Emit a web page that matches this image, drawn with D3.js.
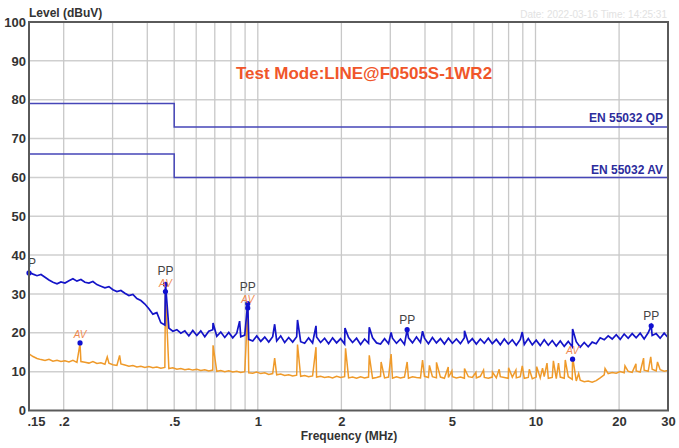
<!DOCTYPE html>
<html>
<head>
<meta charset="utf-8">
<script src="https://cdn.jsdelivr.net/npm/d3@7"></script>
<style>
body { margin: 0; background: #fff; }
text { font-family: "Liberation Sans", Arial, sans-serif; }
</style>
</head>
<body>
<div id="chart"></div>
<script>
// sweep frequencies (MHz)
const freqs = [
    0.150, 0.1551, 0.1603, 0.1657, 0.1713, 0.1770, 0.1830, 0.1892, 0.1955, 0.2021,
    0.2089, 0.2159, 0.2232, 0.2307, 0.2385, 0.2465, 0.2548, 0.2634, 0.2723, 0.2815,
    0.2910, 0.3008, 0.3109, 0.3214, 0.3322, 0.3434, 0.3550, 0.3669, 0.3793, 0.3921,
    0.4053, 0.4189, 0.4330, 0.4476, 0.4627, 0.4783, 0.4944, 0.5111, 0.5283, 0.5461,
    0.5645, 0.5833, 0.6030, 0.6233, 0.6443, 0.6660, 0.6885, 0.7117, 0.7356, 0.7604,
    0.7860, 0.8125, 0.8399, 0.8682, 0.8975, 0.9277, 0.9590, 0.9913, 1.0247, 1.0593,
    1.0949, 1.1315, 1.1696, 1.2090, 1.2497, 1.2918, 1.3353, 1.3803, 1.4268, 1.4749,
    1.524, 1.575, 1.628, 1.683, 1.740, 1.799, 1.859, 1.922, 1.987, 2.054,
    2.123, 2.194, 2.268, 2.345, 2.424, 2.505, 2.590, 2.677, 2.767, 2.861,
    2.957, 3.055, 3.158, 3.264, 3.374, 3.488, 3.606, 3.727, 3.853, 3.983,
    4.116, 4.254, 4.398, 4.546, 4.699, 4.857, 5.021, 5.190, 5.365, 5.546,
    5.732, 5.923, 6.123, 6.329, 6.542, 6.762, 6.990, 7.226, 7.469, 7.721,
    7.981, 8.250, 8.528, 8.815, 9.112, 9.419, 9.737, 10.06, 10.40, 10.75,
    11.12, 11.49, 11.88, 12.28, 12.69, 13.12, 13.56, 14.02, 14.49, 14.98,
    15.48, 16.00, 16.54, 17.10, 17.68, 18.27, 18.89, 19.53, 20.18, 20.86,
    21.56, 22.29, 23.04, 23.82, 24.62, 25.45, 26.31, 27.20, 28.11, 29.06,
    30.00
];

// peak detector trace (dBuV)
const peakLevels = [
    35.6, 35.1, 34.7, 35.0, 34.3, 33.6, 33.0, 32.6, 33.1, 32.8,
    33.4, 33.9, 33.3, 33.7, 33.0, 32.8, 33.2, 32.4, 32.0, 31.6,
    31.9, 31.1, 30.6, 30.9, 30.2, 29.6, 29.9, 28.8, 28.3, 27.4,
    26.2, 24.8, 25.2, 22.6, 22.0, 21.2, 20.4, 20.8, 19.9, 20.5,
    19.2, 20.6, 19.3, 20.5, 19.0, 20.4, 20.8, 19.1, 20.2, 18.8,
    20.1, 18.7, 19.9, 19.0, 19.4, 18.3, 17.9, 19.2, 17.8, 18.9,
    17.6, 19.0, 17.9, 19.2, 17.5, 18.8, 17.6, 19.0, 17.7, 17.3,
    18.7, 17.4, 18.9, 17.5, 18.6, 17.2, 18.7, 17.4, 18.5, 17.1,
    18.8, 17.5, 18.6, 17.0, 18.4, 17.3, 18.7, 17.4, 17.1, 18.5,
    17.2, 18.6, 17.3, 18.4, 17.0, 18.7, 17.4, 18.9, 17.5, 18.6,
    17.2, 18.8, 17.4, 18.5, 17.1, 18.6, 17.3, 18.4, 17.2, 18.7,
    17.4, 18.5, 17.1, 18.4, 17.3, 18.6, 17.2, 18.3, 16.9, 18.4,
    17.1, 18.2, 16.8, 18.3, 17.0, 18.5, 16.9, 18.1, 16.7, 18.2,
    16.8, 18.0, 16.6, 17.9, 16.5, 17.8, 16.4, 17.7, 16.3, 17.5,
    16.4, 17.6, 17.2, 18.7, 18.2, 19.2, 18.4, 19.5, 18.3, 19.7,
    18.6, 19.8, 18.7, 19.9, 18.4, 20.0, 19.3, 19.8, 18.6, 19.9,
    18.8
];

// average detector trace (dBuV)
const avgLevels = [
    14.6, 13.9, 13.4, 13.1, 12.9, 13.2, 12.7, 12.9, 12.6, 12.8,
    12.5, 12.9, 12.4, 12.6, 12.4, 12.2, 12.6, 12.1, 12.3, 11.9,
    12.2, 11.8, 11.6, 12.0, 11.7, 11.4, 11.6, 11.2, 11.4, 11.1,
    11.3, 11.0, 11.2, 10.9, 11.1, 10.8, 11.0, 10.6, 10.8, 10.5,
    10.7, 10.4, 10.6, 10.3, 10.5, 10.2, 10.4, 10.1, 10.3, 10.0,
    10.2, 9.9, 10.1, 9.8, 10.0, 9.7, 9.6, 9.9, 9.5, 9.7,
    9.3, 9.5, 9.2, 9.4, 9.0, 9.2, 8.9, 9.1, 8.8, 9.0,
    8.7, 8.9, 8.6, 8.8, 8.5, 8.7, 8.4, 8.8, 8.5, 8.7,
    8.4, 8.6, 8.3, 8.7, 8.4, 8.6, 8.3, 8.5, 8.8, 8.4,
    8.6, 8.3, 8.7, 8.4, 8.6, 8.3, 8.7, 8.5, 8.4, 8.8,
    8.5, 8.7, 8.4, 8.6, 8.3, 8.5, 8.7, 8.4, 8.6, 8.3,
    8.7, 8.5, 8.4, 8.8, 8.5, 8.3, 8.6, 8.4, 8.7, 8.5,
    8.3, 8.6, 8.4, 8.7, 8.3, 8.5, 8.2, 8.6, 8.4, 8.7,
    8.3, 8.5, 8.2, 8.6, 8.3, 8.7, 8.0, 7.6, 7.8, 7.4,
    7.6, 7.3, 7.7, 8.4, 9.2, 9.5, 9.8, 9.6, 10.0, 9.7,
    10.1, 9.8, 10.2, 9.9, 10.4, 10.1, 10.6, 10.2, 10.5, 10.1,
    10.3
];

// narrow harmonic spikes [MHz, dBuV]
const peakSpikes = [
    [0.465, 32.8], [0.69, 22.5], [0.86, 23.0], [0.92, 27.8], [1.15, 22.2],
    [1.39, 23.3], [1.62, 21.8], [2.06, 21.2], [2.52, 21.4], [3.02, 20.1],
    [3.45, 20.8], [3.92, 20.4], [5.55, 20.5], [8.96, 20.2], [13.6, 21.0],
    [26.1, 21.8]
];
const avgSpikes = [
    [0.229, 17.2], [0.287, 13.8], [0.318, 14.2], [0.465, 30.6], [0.69, 16.8],
    [0.92, 26.4], [1.15, 13.5], [1.39, 17.0], [1.62, 16.3], [2.07, 16.0],
    [2.52, 14.2], [2.78, 12.5], [3.02, 14.5], [3.45, 12.5], [3.92, 13.0],
    [4.15, 11.6], [4.40, 12.4], [4.85, 11.2], [5.00, 10.2], [5.55, 10.8],
    [6.10, 9.8], [6.50, 10.4], [7.00, 9.9], [7.40, 10.6], [8.00, 11.0],
    [8.50, 10.4], [8.96, 11.5], [9.50, 10.6], [10.1, 11.3], [10.6, 10.9],
    [11.0, 12.2], [11.6, 12.8], [12.1, 12.2], [12.8, 13.0], [13.6, 13.8],
    [14.3, 9.5], [17.8, 10.8], [21.0, 11.5], [23.0, 12.0], [24.5, 13.5],
    [26.0, 13.8], [27.5, 12.5]
];

// limits
const qpLimit = [[0.15, 79], [0.5, 79], [0.5, 73], [30, 73]];
const avLimit = [[0.15, 66], [0.5, 66], [0.5, 60], [30, 60]];

// final measurement markers
const peakMarkers = [[0.15, 35.4, "P"], [0.465, 32.5, "PP"], [0.92, 27.5, "PP"], [3.45, 20.8, "PP"], [26.1, 21.8, "PP"]];
const avgMarkers = [[0.229, 17.4], [0.465, 30.6], [0.92, 26.4], [13.6, 13.2]];

const xTicks = [0.15, 0.2, 0.5, 1, 2, 5, 10, 20, 30];
const xTickLabels = [".15", ".2", ".5", "1", "2", "5", "10", "20", "30"];
const xGrid = [0.2, 0.3, 0.4, 0.5, 0.6, 0.7, 0.8, 0.9, 1, 2, 3, 4, 5, 6, 7, 8, 9, 10, 20];
const yTicks = [0, 10, 20, 30, 40, 50, 60, 70, 80, 90, 100];

function buildTrace(levels, spikes) {
    let pts = freqs.map(function (f, i) { return [f, levels[i]]; });
    spikes.forEach(function (s) { pts.push(s); });
    pts.sort(function (a, b) { return a[0] - b[0]; });
    return pts;
}

function draw() {
    const w = 679;
    const h = 448;

    const xScale = d3.scaleLog().domain([0.15, 30]).range([29, 668]);
    const yScale = d3.scaleLinear().domain([0, 100]).range([410.5, 22]);

    const svg = d3.select("#chart").append("svg")
        .attr("width", w)
        .attr("height", h)
        .style("display", "block");

    svg.append("rect").attr("width", w).attr("height", h).attr("fill", "#fff");

    svg.append("defs").append("clipPath").attr("id", "plotClip")
        .append("rect")
        .attr("x", 29).attr("y", 22)
        .attr("width", 639).attr("height", 388.5);

    // grid
    svg.append("g").selectAll("line.h")
        .data(yTicks.slice(1, -1))
        .enter().append("line")
        .attr("x1", 29).attr("x2", 668)
        .attr("y1", function (d) { return yScale(d); })
        .attr("y2", function (d) { return yScale(d); })
        .attr("stroke", "#cfcfcf").attr("stroke-width", 1.5);

    svg.append("g").selectAll("line.v")
        .data(xGrid)
        .enter().append("line")
        .attr("x1", function (d) { return xScale(d); })
        .attr("x2", function (d) { return xScale(d); })
        .attr("y1", 22).attr("y2", 410.5)
        .attr("stroke", "#c8c8c8").attr("stroke-width", 1.3);

    // timestamp (faint)
    svg.append("text")
        .attr("x", 667).attr("y", 18)
        .attr("text-anchor", "end")
        .attr("font-size", 10)
        .attr("fill", "#e2e2e2")
        .text("Date: 2022-03-16  Time: 14:25:31");

    const line = d3.line()
        .x(function (d) { return xScale(d[0]); })
        .y(function (d) { return yScale(d[1]); });

    const plot = svg.append("g").attr("clip-path", "url(#plotClip)");

    // limit lines
    [qpLimit, avLimit].forEach(function (lim) {
        plot.append("path")
            .attr("d", line(lim))
            .attr("fill", "none")
            .attr("stroke", "#4646b8")
            .attr("stroke-width", 1.5);
    });

    plot.append("path")
        .attr("d", line(buildTrace(avgLevels, avgSpikes)))
        .attr("fill", "none")
        .attr("stroke", "#ef9a2a")
        .attr("stroke-width", 1.5);

    plot.append("path")
        .attr("d", line(buildTrace(peakLevels, peakSpikes)))
        .attr("fill", "none")
        .attr("stroke", "#1414c8")
        .attr("stroke-width", 1.7);

    // markers
    svg.append("g").selectAll("circle.av")
        .data(avgMarkers)
        .enter().append("circle")
        .attr("cx", function (d) { return xScale(d[0]); })
        .attr("cy", function (d) { return yScale(d[1]); })
        .attr("r", 2.6)
        .attr("fill", "#1010d0");

    svg.append("g").selectAll("circle.pk")
        .data(peakMarkers)
        .enter().append("circle")
        .attr("cx", function (d) { return xScale(d[0]); })
        .attr("cy", function (d) { return yScale(d[1]); })
        .attr("r", 2.6)
        .attr("fill", "#1010d0");

    const avLabelY = function (d) { return yScale(d[1]) - 5; };

    svg.append("g").selectAll("text")
        .data(avgMarkers)
        .enter().append("text")
        .attr("x", function (d) { return xScale(d[0]); })
        .attr("y", avLabelY)
        .attr("text-anchor", "middle")
        .attr("font-size", 10)
        .attr("font-style", "italic")
        .attr("fill", "#f08a50")
        .text("AV");

    // PP labels sit above any AV label at the same frequency
    svg.append("g").selectAll("text")
        .data(peakMarkers)
        .enter().append("text")
        .attr("x", function (d, i) { return xScale(d[0]) + (i === 0 ? 3 : 0); })
        .attr("y", function (d) {
            let yy = yScale(d[1]) - 6;
            avgMarkers.forEach(function (a) {
                if (a[0] === d[0]) {
                    yy = Math.min(yy, avLabelY(a) - 12);
                }
            });
            return yy;
        })
        .attr("text-anchor", "middle")
        .attr("font-size", 12)
        .attr("fill", "#444")
        .text(function (d) { return d[2]; });

    // limit labels
    svg.append("text")
        .attr("x", 663).attr("y", 122)
        .attr("text-anchor", "end")
        .attr("font-size", 12).attr("font-weight", "bold")
        .attr("fill", "#2c2c9c")
        .text("EN 55032 QP");
    svg.append("text")
        .attr("x", 663).attr("y", 174)
        .attr("text-anchor", "end")
        .attr("font-size", 12).attr("font-weight", "bold")
        .attr("fill", "#2c2c9c")
        .text("EN 55032 AV");

    // title
    svg.append("text")
        .attr("x", 364).attr("y", 79)
        .attr("text-anchor", "middle")
        .attr("font-size", 17).attr("font-weight", "bold")
        .attr("fill", "#f0562a")
        .text("Test Mode:LINE@F0505S-1WR2");

    // frame
    svg.append("rect")
        .attr("x", 29).attr("y", 22)
        .attr("width", 639).attr("height", 388.5)
        .attr("fill", "none")
        .attr("stroke", "#5a5a5a")
        .attr("stroke-width", 2);

    // axes
    const yAxis = d3.axisLeft(yScale).tickValues(yTicks).tickSize(0).tickPadding(3);
    const gy = svg.append("g").attr("transform", "translate(29,0)").call(yAxis);
    gy.select(".domain").remove();
    gy.selectAll("text")
        .attr("font-size", 13).attr("font-weight", "bold")
        .attr("font-family", "Liberation Sans, Arial, sans-serif")
        .attr("fill", "#333");

    const xAxis = d3.axisBottom(xScale).tickValues(xTicks).tickSize(0).tickPadding(6)
        .tickFormat(function (d, i) { return xTickLabels[i]; });
    const gx = svg.append("g").attr("transform", "translate(0,410.5)").call(xAxis);
    gx.select(".domain").remove();
    gx.selectAll("text")
        .attr("font-size", 13).attr("font-weight", "bold")
        .attr("font-family", "Liberation Sans, Arial, sans-serif")
        .attr("fill", "#333");
    gx.selectAll(".tick").filter(function (d, i) { return i === 0; })
        .select("text").attr("x", 7);

    // axis titles
    svg.append("text")
        .attr("x", 29).attr("y", 17)
        .attr("font-size", 12).attr("font-weight", "bold")
        .attr("fill", "#333")
        .text("Level (dBuV)");

    svg.append("text")
        .attr("x", 349).attr("y", 440)
        .attr("text-anchor", "middle")
        .attr("font-size", 12).attr("font-weight", "bold")
        .attr("fill", "#333")
        .text("Frequency (MHz)");
}

draw();
</script>
</body>
</html>
